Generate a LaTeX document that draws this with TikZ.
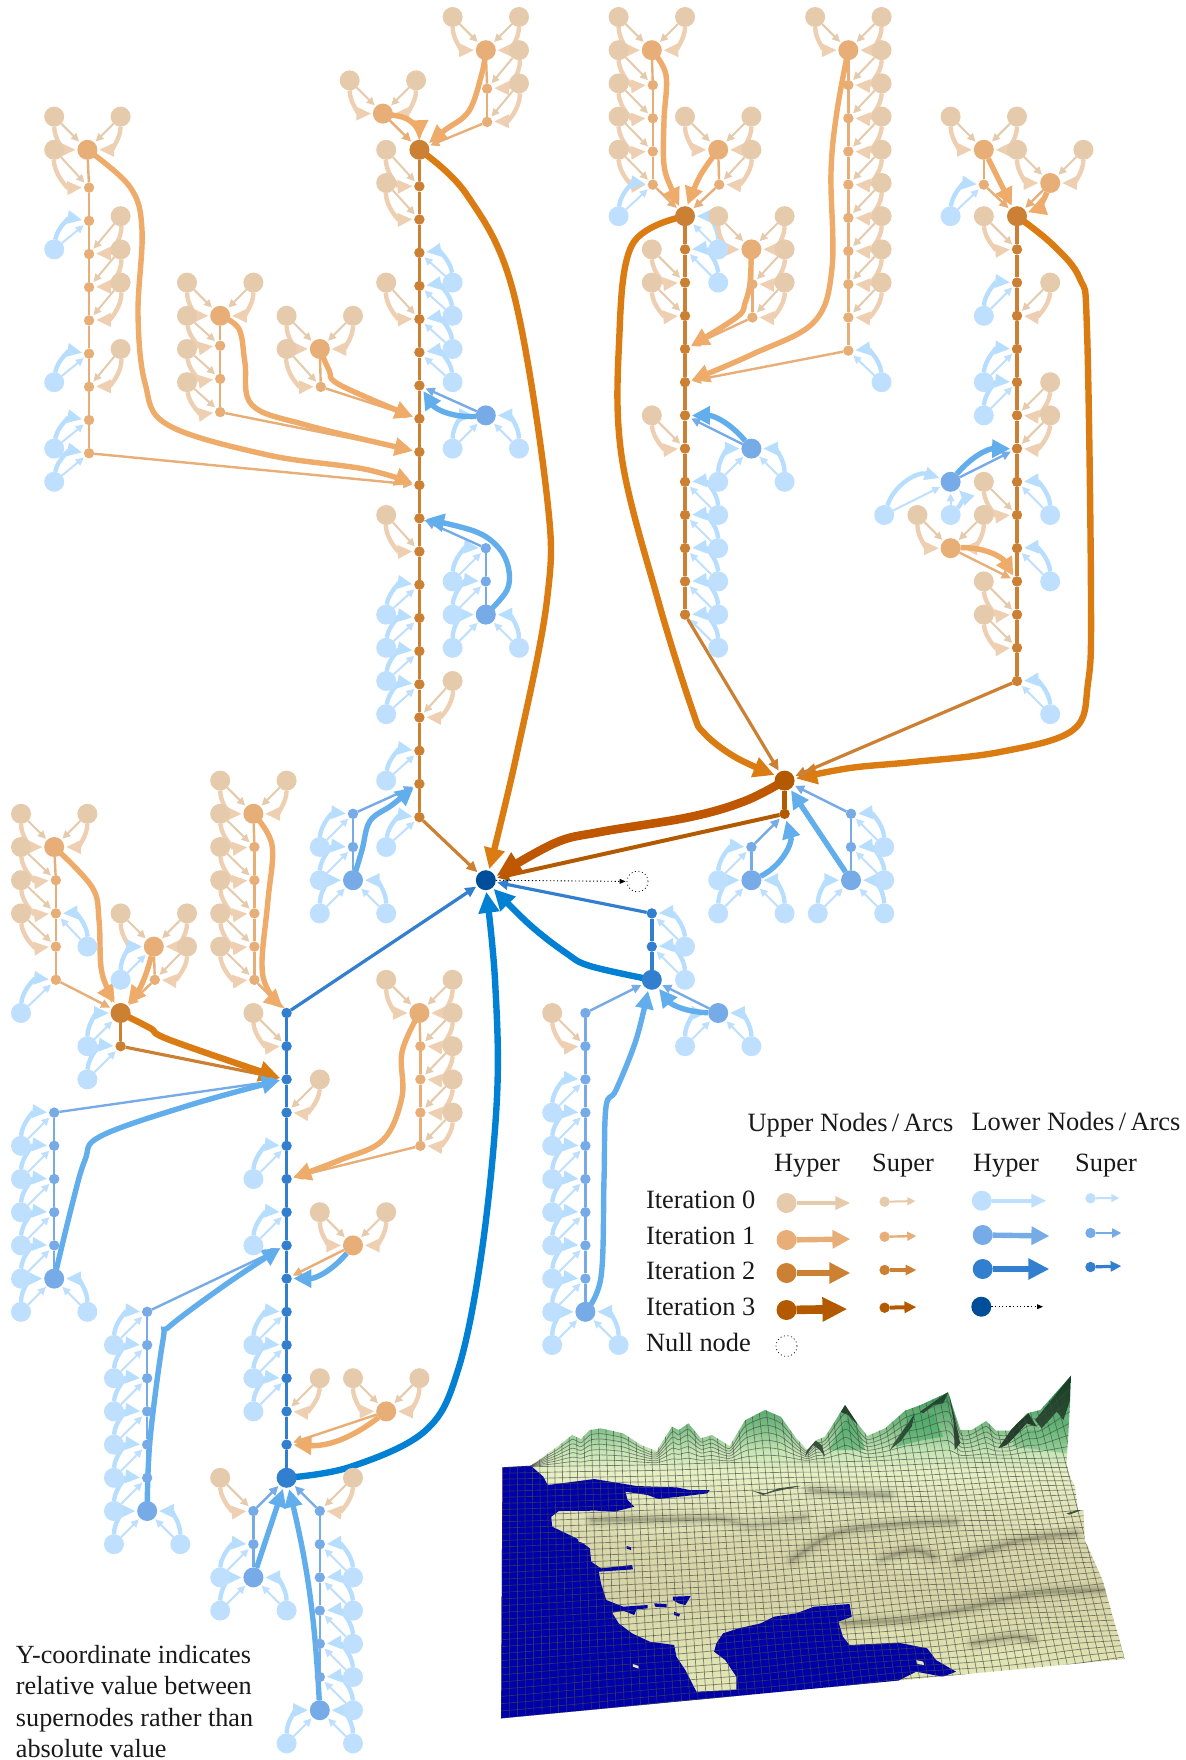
\documentclass[tikz,border=0pt]{standalone}
\usepackage{fontspec}
\setmainfont{Liberation Serif}
\usetikzlibrary{arrows.meta,calc}
\pgfdeclarelayer{arcs}
\pgfsetlayers{arcs,main}
\definecolor{cU0}{HTML}{E5CAAB}\definecolor{cU1}{HTML}{E8AE78}\definecolor{cU2}{HTML}{CC8033}\definecolor{cU3}{HTML}{B35A00}
\definecolor{cL0}{HTML}{BFDFFF}\definecolor{cL1}{HTML}{76ABE8}\definecolor{cL2}{HTML}{337FCF}\definecolor{cL3}{HTML}{004E9A}
\definecolor{hU0}{HTML}{EFCFB1}\definecolor{hU1}{HTML}{EEAB69}\definecolor{hU2}{HTML}{DB7C13}\definecolor{hU3}{HTML}{BF5700}
\definecolor{hL0}{HTML}{B8DEFF}\definecolor{hL1}{HTML}{62AEEC}\definecolor{hL2}{HTML}{0281D4}
\definecolor{landa}{HTML}{E7E9B8}\definecolor{landb}{HTML}{E0E3B2}\definecolor{landc}{HTML}{D6D4A6}\definecolor{landd}{HTML}{D9D8AA}\definecolor{lande}{HTML}{E3E8BC}\definecolor{landf}{HTML}{E7F0C4}\definecolor{landg}{HTML}{C5E6B5}\definecolor{landh}{HTML}{7CBF85}\definecolor{landi}{HTML}{4FA468}\definecolor{landj}{HTML}{1F7A3D}
\definecolor{facet}{HTML}{16301E}
\definecolor{litg}{HTML}{3BA55F}
\definecolor{palebnd}{HTML}{F0F5C8}
\pgfdeclareverticalshading{landshade}{100bp}{color(0bp)=(landa);color(25bp)=(landa);color(33.5bp)=(landb);color(43bp)=(landc);color(50.5bp)=(landd);color(57bp)=(lande);color(61bp)=(landf);color(64bp)=(landg);color(67.5bp)=(landh);color(71bp)=(landi);color(75bp)=(landj);color(100bp)=(landj)}
\tikzset{
 nbase/.style={circle,inner sep=0pt,outer sep=0pt,draw=none},
 hnU0/.style={nbase,minimum size=10pt,fill=cU0},hnU1/.style={nbase,minimum size=10pt,fill=cU1},
 hnU2/.style={nbase,minimum size=10pt,fill=cU2},hnU3/.style={nbase,minimum size=10pt,fill=cU3},
 hnL0/.style={nbase,minimum size=10pt,fill=cL0},hnL1/.style={nbase,minimum size=10pt,fill=cL1},
 hnL2/.style={nbase,minimum size=10pt,fill=cL2},hnL3/.style={nbase,minimum size=10pt,fill=cL3},
 snU0/.style={nbase,minimum size=5.2pt,fill=cU0},snU1/.style={nbase,minimum size=5.2pt,fill=cU1},
 snU2/.style={nbase,minimum size=5.2pt,fill=cU2},snU3/.style={nbase,minimum size=5.2pt,fill=cU3},
 snL0/.style={nbase,minimum size=5.2pt,fill=cL0},snL1/.style={nbase,minimum size=5.2pt,fill=cL1},
 snL2/.style={nbase,minimum size=5.2pt,fill=cL2},
 nullnode/.style={circle,inner sep=0pt,minimum size=10.5pt,draw=black,line width=.35pt,dash pattern=on .5pt off 1.3pt},
 lnU0/.style={line width=1pt,color=cU0},lnU1/.style={line width=1.2pt,color=cU1},lnU2/.style={line width=1.7pt,color=cU2},lnU3/.style={line width=2.2pt,color=cU3},
 lnL0/.style={line width=1pt,color=cL0},lnL1/.style={line width=1.2pt,color=cL1},lnL2/.style={line width=1.7pt,color=cL2},
 saU0/.style={line width=1pt,color=cU0,-{Triangle[length=4pt,width=3.8pt]},shorten >=.8pt},
 saU1/.style={line width=1.2pt,color=cU1,-{Triangle[length=4.6pt,width=4.4pt]},shorten >=.8pt},
 saU2/.style={line width=1.6pt,color=cU2,-{Triangle[length=5.4pt,width=5pt]},shorten >=.8pt},
 saU3/.style={line width=2pt,color=cU3,-{Triangle[length=6pt,width=5.6pt]},shorten >=.8pt},
 saL0/.style={line width=1pt,color=cL0,-{Triangle[length=4pt,width=3.8pt]},shorten >=.8pt},
 saL1/.style={line width=1.2pt,color=cL1,-{Triangle[length=4.6pt,width=4.4pt]},shorten >=.8pt},
 saL2/.style={line width=1.6pt,color=cL2,-{Triangle[length=5.4pt,width=5pt]},shorten >=.8pt},
 haU0/.style={line width=2.2pt,color=hU0,-{Triangle[length=7.5pt,width=6.4pt]},shorten >=.8pt},
 haU1/.style={line width=2.7pt,color=hU1,-{Triangle[length=9pt,width=8.8pt]},shorten >=.8pt},
 haU2/.style={line width=3.2pt,color=hU2,-{Triangle[length=10.5pt,width=10pt]},shorten >=.8pt},
 haU3/.style={line width=4.3pt,color=hU3,-{Triangle[length=12.5pt,width=11.5pt]},shorten >=.8pt},
 haL0/.style={line width=2.2pt,color=hL0,-{Triangle[length=7.5pt,width=6.4pt]},shorten >=.8pt},
 haL1/.style={line width=2.7pt,color=hL1,-{Triangle[length=9pt,width=8.8pt]},shorten >=.8pt},
 haL2/.style={line width=3.2pt,color=hL2,-{Triangle[length=10.5pt,width=10pt]},shorten >=.8pt},
 dotarc/.style={line width=.45pt,color=black,dash pattern=on .6pt off 1.2pt,-{Triangle[length=3pt,width=2.4pt]},shorten >=.5pt},
 lbl/.style={inner sep=0pt,outer sep=0pt,font=\fontsize{13.2}{15.8}\selectfont,color=black!90},
 gridline/.style={line width=.34pt,color=black!72,opacity=.65},
 smoothy/.style={smooth,tension=.6}
}
\newcounter{lfc}
\gdef\arcq{}
\newcommand\Nd[4]{\node[#1] (#2) at ({21+33.2*(#3)},{17+33.2*(#4)}) {};}
\newcommand\Lk[3]{\xdef\arcq{\unexpanded\expandafter{\arcq}\noexpand\draw[ln#1] (#2)--(#3);}}
\newcommand\Sa[3]{\xdef\arcq{\unexpanded\expandafter{\arcq}\noexpand\draw[sa#1] (#2)--(#3);}}
\newcommand\Ha[4]{\xdef\arcq{\unexpanded\expandafter{\arcq}\noexpand\draw[ha#1] (#2) to[bend left=#4] (#3);}}
\newcommand\Hp[2]{\xdef\arcq{\unexpanded\expandafter{\arcq}\noexpand\draw[ha#1] plot[smoothy] coordinates {#2};}}
\newcommand\Chain[6]{\foreach \rr in {#4,...,#5}{%
  \Nd{sn#1}{#2\rr}{#3}{\rr+(#6)}%
  \ifnum\rr>#4\relax\pgfmathtruncatemacro\qq{\rr-1}\Lk{#1}{#2\qq}{#2\rr}\fi}}
\newcommand\Lf[4]{\stepcounter{lfc}%
  \Nd{hn#10}{l\thelfc}{#3}{#4}%
  \pgfpointanchor{#2}{center}\pgfgetlastxy{\tgx}{\tgy}%
  \pgfpointanchor{l\thelfc}{center}\pgfgetlastxy{\lfx}{\lfy}%
  \ifdim\lfx<\tgx\relax\ifdim\lfy<\tgy\relax\def\bng{45}\else\def\bng{-45}\fi
  \else\ifdim\lfy<\tgy\relax\def\bng{-45}\else\def\bng{45}\fi\fi
  \Sa{#10}{l\thelfc}{#2}\Ha{#10}{l\thelfc}{#2}{\bng}}
\newcommand\Band[1]{\foreach \wd/\op in {8/.035,6/.04,4/.05,2.4/.07,1.2/.09}{\draw[line width=\wd pt,color=black,opacity=\op,line cap=round] plot[smooth] coordinates {#1};}}
\newcommand\Lite[1]{\foreach \wd/\op in {8/.07,5/.09,3/.12}{\draw[line width=\wd pt,color=palebnd,opacity=\op,line cap=round] plot[smooth] coordinates {#1};}}
\begin{document}
\begin{tikzpicture}[x=0.5pt,y=-0.5pt]
\useasboundingbox (0,0) rectangle (1186,1760);
% ---------- terrain
\begin{scope}[shift={(490,1360)},x=0.22193pt,y=-0.16667pt]
\def\outl{(28,322)--(92,317)--(110,300)--(125,285)--(150,262)--(185,225)--(205,237)--(225,210)--(250,205)--(300,220)--(340,255)--(375,273)--(410,200)--(425,210)--(447,190)--(475,235)--(500,225)--(540,258)--(575,180)--(620,150)--(655,170)--(690,235)--(715,270)--(735,240)--(755,230)--(800,135)--(825,185)--(850,228)--(890,205)--(935,152)--(970,135)--(1032,97)--(1060,210)--(1085,210)--(1118,183)--(1140,212)--(1172,212)--(1210,160)--(1240,150)--(1309,47)--(1307,120)--(1303,230)--(1299,310)--(1307,350)--(1318,380)--(1325,450)--(1337,450)--(1340,540)--(1380,660)--(1430,897)--(25,1075)--cycle}
\begin{scope}
\clip \outl;
\shade[shading=landshade] \outl;
% lit slopes
\fill[litg,opacity=.55] (946,160)--(999,160)--(1021,230)--(976,240)--(916,260)--cycle;
\fill[litg,opacity=.55] (807,170)--(834,220)--(845,270)--(804,270)--(762,270)--cycle;
\fill[litg,opacity=.35] (1179,210)--(1239,210)--(1277,160)--(1303,185)--(1299,280)--(1179,260)--cycle;
% dark facets
\fill[facet,opacity=.85] (801,133)--(815,145)--(828,195)--(807,165)--(788,155)--cycle;
\fill[facet,opacity=.8] (732,240)--(747,255)--(755,290)--(743,270)--(728,255)--(710,290)--(717,255)--cycle;
\fill[facet,opacity=.85] (1033,95)--(1055,220)--(1059,250)--(1047,270)--(1044,180)--cycle;
\fill[facet,opacity=.8] (969,155)--(1006,120)--(1033,95)--(1021,130)--(999,135)--(976,160)--cycle;
\fill[facet,opacity=.75] (912,245)--(942,190)--(957,160)--(950,200)--(924,245)--(901,270)--cycle;
\fill[facet,opacity=.9] (1145,265)--(1179,200)--(1213,160)--(1232,200)--(1209,190)--(1186,225)--(1164,255)--cycle;
\fill[facet,opacity=.8] (1309,47)--(1228,180)--(1243,205)--(1277,155)--(1292,180)--(1307,120)--cycle;
\fill[facet,opacity=.8] (1299,460)--(1329,448)--(1330,452)--(1305,464)--cycle;
\fill[facet,opacity=.8] (590,392)--(620,400)--(650,385)--(690,378)--(700,378)--(640,395)--(615,405)--cycle;
% terrain folds
\Band{(230,480)(400,478)(520,478)(590,497)(710,472)}
\Band{(680,600)(760,530)(830,505)(950,490)(1050,485)}
\Band{(1050,600)(1200,540)(1320,520)}
\Band{(796,790)(931,780)(1058,750)(1224,700)(1390,690)}
\Band{(1088,850)(1179,830)(1224,840)}
\Band{(880,600)(950,570)(1000,590)}
\Band{(720,390)(800,400)(900,405)}
\Lite{(811,820)(923,815)}\Lite{(1111,900)(1224,870)}\Lite{(1050,560)(1180,500)(1300,490)}\Lite{(700,640)(850,600)(1000,640)}\Lite{(300,510)(520,500)(700,490)}
% water
\fill[blue!67!black] (28,322)--(92,317)--(120,350)--(130,375)--(160,370)--(235,357)--(285,368)--(330,378)--(420,382)--(450,390)--(495,390)--(490,400)--(440,408)--(380,417)--(355,405)--(305,395)--(310,420)--(325,440)--(280,455)--(240,452)--(155,453)--(138,470)--(140,500)--(195,535)--(225,565)--(228,605)--(250,625)--(320,615)--(322,628)--(245,635)--(250,670)--(262,720)--(300,740)--(355,735)--(355,745)--(330,748)--(325,765)--(300,752)--(275,758)--(290,790)--(320,820)--(360,845)--(415,855)--(420,890)--(440,930)--(465,995)--(555,990)--(555,950)--(530,900)--(505,875)--(510,850)--(525,820)--(560,805)--(610,790)--(640,770)--(690,760)--(730,740)--(810,732)--(815,770)--(785,785)--(795,830)--(810,855)--(920,848)--(985,865)--(1005,900)--(1050,935)--(1020,950)--(960,935)--(915,965)--(25,1075)--cycle;
\fill[blue!67!black] (308,558)--(318,562)--(318,570)--(308,566)--cycle;
\fill[blue!67!black] (370,730)--(398,732)--(398,742)--(372,740)--cycle;
\fill[blue!67!black] (412,710)--(452,708)--(446,722)--(440,735)--(425,730)--(412,720)--cycle;
\fill[blue!67!black] (415,755)--(428,762)--(426,770)--(415,765)--cycle;
\fill[lande] (322,912)--(335,918)--(335,926)--(322,920)--cycle;
\fill[lande] (960,900)--(976,905)--(978,915)--(962,912)--cycle;
\fill[lande] (198,538)--(218,545)--(220,552)--(200,545)--cycle;
% grid
\foreach \i in {0,...,76}{
 \pgfmathsetmacro\xb{25+18.487*\i}\pgfmathsetmacro\yb{1075-2.342*\i}
 \pgfmathsetmacro\xt{28+16.868*\i}\pgfmathsetmacro\yt{322-.421*\i}
 \draw[gridline] (\xb,\yb)--({\xb+1.4*(\xt-\xb)},{\yb+1.4*(\yt-\yb)});}
\foreach \j in {0,...,38}{
 \pgfmathsetmacro\sss{(\j/38)*1.12/(1+.12*\j/38)}
 \pgfmathsetmacro\xa{25+3*\sss}\pgfmathsetmacro\ya{1075-753*\sss}
 \pgfmathsetmacro\xc{1430-120*\sss}\pgfmathsetmacro\yc{897-607*\sss}
 \gdef\pth{}
 \foreach \n in {0,...,14}{
  \pgfmathsetmacro\ux{\xa+(\xc-\xa)/14*\n}
  \pgfmathsetmacro\uy{\ya+(\yc-\ya)/14*\n+.45*\n*sin(\n*70+\j*25)*(1-.4*\sss)}
  \xdef\pth{\pth(\ux,\uy)}}
 \edef\tmpd{\noexpand\draw[gridline] plot[smooth] coordinates {\pth};}\tmpd}
\foreach \k in {1,...,6}{
 \gdef\pth{}
 \foreach \px/\py in {92/317,110/300,125/285,150/262,185/225,205/237,225/210,250/205,300/220,340/255,375/273,410/200,425/210,447/190,475/235,500/225,540/258,575/180,620/150,655/170,690/235,715/270,735/240,755/230,800/135,825/185,850/228,890/205,935/152,970/135,1032/97,1060/210,1085/210,1118/183,1140/212,1172/212,1210/160,1240/150,1309/47}{
  \pgfmathsetmacro\yy{\py+(322-0.022*\px-\py)*\k/7}
  \xdef\pth{\pth(\px,\yy)}}
 \edef\tmpd{\noexpand\draw[gridline] plot[smooth,tension=.4] coordinates {\pth};}\tmpd}
\end{scope}
\end{scope}
% ---------- root and null
\Nd{hnL3}{Root}{14}{26}
\node[nullnode] (Null) at (637.5,881.5) {};
% ---------- tree A
\Nd{hnU2}{A}{12}{4}\Chain{U2}{a}{12}{5}{24}{.1}\Lk{U2}{A}{a5}
\Lf{U}{a5}{11}{4}\Lf{U}{a6}{11}{5}\Lf{L}{a7}{13}{8}\Lf{L}{a8}{13}{9}\Lf{L}{a9}{13}{10}\Lf{L}{a10}{13}{11}\Lf{U}{a9}{11}{8}
\Lf{U}{a16}{11}{15}\Lf{L}{a17}{11}{18}\Lf{L}{a18}{11}{19}\Lf{L}{a19}{11}{20}\Lf{L}{a20}{11}{21}\Lf{L}{a22}{11}{23}\Lf{L}{a24}{11}{25}\Lf{U}{a21}{13}{20}
% Ta
\Nd{hnU1}{Ta}{14}{1}\Chain{U1}{ta}{14.04}{2}{3}{.16}\Lk{U1}{Ta}{ta2}
\Lf{U}{Ta}{13}{0}\Lf{U}{Ta}{15}{0}\Lf{U}{ta2}{15}{1}\Lf{U}{ta3}{15}{2}
\Sa{U1}{ta3}{A}\Hp{U1}{(Ta)(482,73)(469,111)(445,130)(A.35)}
% Tb
\Nd{hnU1}{Tb}{10.9}{2.91}\Lf{U}{Tb}{9.9}{1.91}\Lf{U}{Tb}{11.9}{1.91}
\Sa{U1}{Tb}{A}\Hp{U1}{(Tb)(405,118)(417,128)(A.88)}
% Tc
\Nd{hnU1}{Tc}{2}{4}\Chain{U1}{tc}{2.05}{5}{13}{.14}\Lk{U1}{Tc}{tc5}
\Lf{U}{Tc}{1}{3}\Lf{U}{Tc}{3}{3}\Lf{U}{tc5}{1}{4}\Lf{U}{tc7}{3}{6}\Lf{U}{tc8}{3}{7}\Lf{U}{tc9}{3}{8}\Lf{L}{tc6}{1}{7}\Lf{U}{tc11}{3}{10}\Lf{L}{tc10}{1}{11}\Lf{L}{tc12}{1}{13}\Lf{L}{tc13}{1}{14}
\Sa{U1}{tc13}{a14}\Hp{U1}{(Tc)(130,187)(142,230)(138,314)(145,383)(168,425)(268,455)(364,469)(a14.168)}
% Td
\Nd{hnU1}{Td}{6}{9}\Chain{U1}{td}{6}{10}{12}{-.1}\Lk{U1}{Td}{td10}
\Lf{U}{Td}{5}{8}\Lf{U}{Td}{7}{8}\Lf{U}{td10}{5}{9}\Lf{U}{td11}{5}{10}\Lf{U}{td12}{5}{11}
\Sa{U1}{td12}{a13}\Hp{U1}{(Td)(239,329)(245,363)(252,405)(306,425)(a13.170)}
% Te
\Nd{hnU1}{Te}{9}{10}\Chain{U1}{te}{9.03}{11}{11}{.14}\Lk{U1}{Te}{te11}
\Lf{U}{Te}{8}{9}\Lf{U}{Te}{10}{9}\Lf{U}{te11}{8}{10}
\Sa{U1}{te11}{a12}\Hp{U1}{(Te)(329,370)(340,385)(a12.165)}
% Ba
\Nd{hnL1}{Ba}{14}{12}\Lf{L}{Ba}{13}{13}\Lf{L}{Ba}{15}{13}
\Sa{L1}{Ba}{a11}\Ha{L1}{Ba}{a11}{30}
% Bb
\Nd{hnL1}{Bb}{14}{18}\Chain{L1}{bb}{14}{16}{17}{0}\Lk{L1}{bb17}{Bb}
\Lf{L}{bb16}{13}{17}\Lf{L}{bb17}{13}{18}\Lf{L}{Bb}{13}{19}\Lf{L}{Bb}{15}{19}
\Sa{L1}{bb16}{a15}\Hp{L1}{(Bb)(507,590)(508,566)(497,546)(474,531)(a15.-5)}
% Bc
\Nd{hnL1}{Bc}{10}{26}\Chain{L1}{bc}{10}{24}{25}{0}\Lk{L1}{bc25}{Bc}
\Lf{L}{bc24}{9}{25}\Lf{L}{bc25}{9}{26}\Lf{L}{Bc}{9}{27}\Lf{L}{Bc}{11}{27}
\Sa{L1}{bc24}{a23}\Hp{L1}{(Bc)(362,850)(370,821)(392,805)(a23.210)}
\Hp{U2}{(A)(467,195)(513,291)(547,497)(547,600)(517,753)(Root.72)}
\Sa{U2}{a24}{Root}
% ---------- tree C
\Nd{hnU2}{C}{20}{6}\Chain{U2}{cc}{20}{7}{18}{0}\Lk{U2}{C}{cc7}
\Lf{U}{cc8}{19}{7}\Lf{U}{cc9}{19}{8}\Lf{U}{cc13}{19}{12}\Lf{L}{C}{21}{7}\Lf{L}{cc7}{21}{8}\Lf{L}{cc14}{21}{15}\Lf{L}{cc15}{21}{16}\Lf{L}{cc16}{21}{17}\Lf{L}{cc17}{21}{18}\Lf{L}{cc18}{21}{19}
\Nd{hnL1}{Bd}{22}{13}\Lf{L}{Bd}{21}{14}\Lf{L}{Bd}{23}{14}\Sa{L1}{Bd}{cc12}\Ha{L1}{Bd}{cc12}{-25}
\Nd{hnU1}{Tf}{19}{1}\Chain{U1}{tf}{19.03}{2}{5}{.05}\Lk{U1}{Tf}{tf2}
\Lf{U}{Tf}{18}{0}\Lf{U}{Tf}{20}{0}\Lf{U}{tf2}{18}{1}\Lf{U}{tf3}{18}{2}\Lf{U}{tf4}{18}{3}\Lf{U}{tf5}{18}{4}\Lf{L}{tf5}{18}{6}
\Sa{U1}{tf5}{C}\Hp{U1}{(Tf)(666,75)(664,120)(664,165)(672,190)(C.120)}
\Nd{hnU1}{Tg}{21}{4}\Chain{U1}{tg}{21.03}{5}{5}{.05}\Lk{U1}{Tg}{tg5}
\Lf{U}{Tg}{20}{3}\Lf{U}{Tg}{22}{3}\Lf{U}{tg5}{22}{4}
\Sa{U1}{tg5}{C}\Hp{U1}{(Tg)(700,176)(C.78)}
\Nd{hnU1}{Th}{22}{7}\Chain{U1}{th}{22.03}{8}{9}{.05}\Lk{U1}{Th}{th8}
\Lf{U}{Th}{21}{6}\Lf{U}{Th}{23}{6}\Lf{U}{th8}{23}{7}\Lf{U}{th9}{23}{8}
\Sa{U1}{th9}{cc10}\Hp{U1}{(Th)(750,283)(745,303)(737,317)(cc10.28)}
\Nd{hnU1}{Ti}{24.92}{1}\Chain{U1}{ti}{24.92}{2}{10}{.05}\Lk{U1}{Ti}{ti2}
\Lf{U}{Ti}{23.92}{0}\Lf{U}{Ti}{25.92}{0}\Lf{U}{ti2}{25.92}{1}\Lf{U}{ti3}{25.92}{2}\Lf{U}{ti4}{25.92}{3}\Lf{U}{ti5}{25.92}{4}\Lf{U}{ti6}{25.92}{5}\Lf{U}{ti7}{25.92}{6}\Lf{U}{ti8}{25.92}{7}\Lf{U}{ti9}{25.92}{8}\Lf{L}{ti10}{25.92}{11}
\Sa{U1}{ti10}{cc11}\Hp{U1}{(Ti)(837,111)(831,172)(832,268)(814,322)(753,354)(cc11.15)}
% ---------- tree E
\Nd{hnU2}{E}{30}{6}\Chain{U2}{ee}{30}{7}{20}{0}\Lk{U2}{E}{ee7}
\Lf{U}{ee7}{29}{6}\Lf{L}{ee8}{29}{9}\Lf{U}{ee9}{31}{8}\Lf{L}{ee10}{29}{11}\Lf{L}{ee11}{29}{12}\Lf{U}{ee12}{31}{11}\Lf{U}{ee13}{31}{12}\Lf{L}{ee14}{31}{15}\Lf{U}{ee15}{29}{14}\Lf{L}{ee16}{31}{17}\Lf{U}{ee18}{29}{17}\Lf{U}{ee19}{29}{18}\Lf{L}{ee20}{31}{21}
\Nd{hnU1}{Tj}{28}{16}\Lf{U}{Tj}{27}{15}\Lf{U}{Tj}{29}{15}\Sa{U1}{Tj}{ee17}\Ha{U1}{Tj}{ee17}{30}
\Nd{hnU1}{Tk}{29}{4}\Chain{U1}{tk}{29}{5}{5}{.05}\Lk{U1}{Tk}{tk5}
\Lf{U}{Tk}{28}{3}\Lf{U}{Tk}{30}{3}\Lf{L}{tk5}{28}{6}\Sa{U1}{tk5}{E}\Ha{U1}{Tk}{E}{0}
\Nd{hnU1}{Tl}{31}{5}\Lf{U}{Tl}{30}{4}\Lf{U}{Tl}{32}{4}\Sa{U1}{Tl}{E}\Ha{U1}{Tl}{E}{25}
\Nd{hnL1}{Be}{28}{14}\Lf{L}{Be}{26}{15}\Lf{L}{Be}{28}{15}\Sa{L1}{Be}{ee13}\Ha{L1}{Be}{ee13}{25}
% ---------- D
\Nd{hnU3}{D}{23}{23}\Chain{U3}{dd}{23}{24}{24}{0}\Lk{U3}{D}{dd24}
\Hp{U2}{(C)(632,245)(619,344)(622,459)(658,600)(692,709)(704,733)(735,757)(D.150)}
\Sa{U2}{cc18}{D}
\Hp{U2}{(E)(1053,245)(1080,279)(1087,330)(1091,600)(1088,683)(1073,730)(1000,752)(913,762)(850,768)(D.10)}
\Sa{U2}{ee20}{D}
\Sa{U3}{dd24}{Root}\Hp{U3}{(D)(745,801)(690,817)(600,832)(555,843)(Root.20)}
\Nd{hnL1}{Bf}{22}{26}\Chain{L1}{bf}{22}{25}{25}{0}\Lk{L1}{bf25}{Bf}
\Lf{L}{bf25}{21}{26}\Lf{L}{Bf}{21}{27}\Lf{L}{Bf}{23}{27}\Sa{L1}{bf25}{dd24}\Ha{L1}{Bf}{dd24}{-40}
\Nd{hnL1}{Bg}{25}{26}\Chain{L1}{bg}{25}{24}{25}{0}\Lk{L1}{bg25}{Bg}
\Lf{L}{bg24}{26}{25}\Lf{L}{bg25}{26}{26}\Lf{L}{Bg}{24}{27}\Lf{L}{Bg}{26}{27}\Sa{L1}{bg24}{D}\Ha{L1}{Bg}{D}{0}
% ---------- tree F
\Nd{hnL2}{Fz}{8}{44}\Chain{L2}{ff}{8}{30}{43}{0}\Lk{L2}{ff43}{Fz}
\Sa{L2}{ff30}{Root}\Hp{L2}{(Fz)(350,1467)(425,1431)(458,1370)(482,1250)(497,1097)(495,980)(Root.-88)}
\Lf{U}{ff31}{7}{30}\Lf{U}{ff33}{9}{32}\Lf{L}{ff34}{7}{35}\Lf{L}{ff36}{7}{37}\Lf{L}{ff39}{7}{40}\Lf{L}{ff40}{7}{41}\Lf{L}{ff41}{7}{42}\Lf{U}{ff42}{9}{41}
\Nd{hnU1}{Tm}{12}{30}\Chain{U1}{tm}{12.03}{31}{34}{0}\Lk{U1}{Tm}{tm31}
\Lf{U}{Tm}{11}{29}\Lf{U}{Tm}{13}{29}\Lf{U}{tm31}{13}{30}\Lf{U}{tm32}{13}{31}\Lf{U}{tm33}{13}{32}\Lf{U}{tm34}{13}{33}
\Sa{U1}{tm34}{ff35}\Hp{U1}{(Tm)(402,1052)(402,1097)(383,1140)(340,1160)(ff35.10)}
\Nd{hnU1}{Tn}{10}{37}\Lf{U}{Tn}{9}{36}\Lf{U}{Tn}{11}{36}\Sa{U1}{Tn}{ff38}\Ha{L1}{Tn}{ff38}{25}
\Nd{hnU1}{To}{11}{42}\Lf{U}{To}{10}{41}\Lf{U}{To}{12}{41}\Sa{U1}{To}{ff43}\Ha{U1}{To}{ff43}{20}
\Nd{hnU2}{Gg}{3}{30}\Chain{U2}{gg}{3}{31}{31}{0}\Lk{U2}{Gg}{gg31}
\Lf{L}{Gg}{2}{31}\Lf{L}{gg31}{2}{32}\Sa{U2}{gg31}{ff32}\Hp{U2}{(Gg)(150,1028)(170,1040)(ff32.170)}
\Nd{hnU1}{Tp}{1}{25}\Chain{U1}{tp}{1.05}{26}{29}{0}\Lk{U1}{Tp}{tp26}
\Lf{U}{Tp}{0}{24}\Lf{U}{Tp}{2}{24}\Lf{U}{tp26}{0}{25}\Lf{U}{tp27}{0}{26}\Lf{U}{tp28}{0}{27}\Lf{L}{tp27}{2}{28}\Lf{L}{tp29}{0}{30}
\Sa{U1}{tp29}{Gg}\Hp{U1}{(Tp)(92,887)(99,920)(101,967)(108,990)(Gg.120)}
\Nd{hnU1}{Tq}{4}{28}\Chain{U1}{tq}{4.03}{29}{29}{0}\Lk{U1}{Tq}{tq29}
\Lf{U}{Tq}{3}{27}\Lf{U}{Tq}{5}{27}\Lf{U}{tq29}{5}{28}\Lf{L}{Tq}{3}{29}\Sa{U1}{tq29}{Gg}\Ha{U1}{Tq}{Gg}{12}
\Nd{hnU1}{Tr}{7}{24}\Chain{U1}{tr}{7.03}{25}{29}{0}\Lk{U1}{Tr}{tr25}
\Lf{U}{Tr}{6}{23}\Lf{U}{Tr}{8}{23}\Lf{U}{tr25}{6}{24}\Lf{U}{tr26}{6}{25}\Lf{U}{tr27}{6}{26}\Lf{U}{tr28}{6}{27}\Lf{U}{tr29}{6}{28}
\Sa{U1}{tr29}{ff30}\Hp{U1}{(Tr)(272,845)(268,900)(262,963)(268,990)(ff30.125)}
\Nd{hnL1}{Hh}{1}{38}\Chain{L1}{hh}{1}{33}{37}{0}\Lk{L1}{hh37}{Hh}
\Lf{L}{hh33}{0}{34}\Lf{L}{hh34}{0}{35}\Lf{L}{hh35}{0}{36}\Lf{L}{hh36}{0}{37}\Lf{L}{hh37}{0}{38}\Lf{L}{Hh}{0}{39}\Lf{L}{Hh}{2}{39}
\Sa{L1}{hh33}{ff32}\Hp{L1}{(Hh)(72,1205)(85,1160)(101,1136)(190,1105)(ff32.185)}
\Nd{hnL1}{Ii}{3.8}{45}\Chain{L1}{ii}{3.8}{39}{44}{0}\Lk{L1}{ii44}{Ii}
\Lf{L}{ii39}{2.8}{40}\Lf{L}{ii40}{2.8}{41}\Lf{L}{ii41}{2.8}{42}\Lf{L}{ii42}{2.8}{43}\Lf{L}{ii43}{2.8}{44}\Lf{L}{ii44}{2.8}{45}\Lf{L}{Ii}{2.8}{46}\Lf{L}{Ii}{4.8}{46}
\Sa{L1}{ii39}{ff37}\Hp{L1}{(Ii)(150,1440)(163,1340)(170,1326)(225,1285)(ff37.200)}
\Nd{hnL1}{Jj}{7}{47}\Chain{L1}{jj}{7}{45}{46}{0}\Lk{L1}{jj46}{Jj}
\Lf{U}{jj45}{6}{44}\Lf{L}{jj46}{6}{47}\Lf{L}{Jj}{6}{48}\Lf{L}{Jj}{8}{48}\Sa{L1}{jj45}{Fz}\Ha{L1}{Jj}{Fz}{0}
\Nd{hnL1}{Kk}{9}{51}\Chain{L1}{kk}{9}{45}{50}{0}\Lk{L1}{kk50}{Kk}
\Lf{U}{kk45}{10}{44}\Lf{L}{kk46}{10}{47}\Lf{L}{kk47}{10}{48}\Lf{L}{kk48}{10}{49}\Lf{L}{kk49}{10}{50}\Lf{L}{kk50}{10}{51}\Lf{L}{Kk}{10}{52}\Lf{L}{Kk}{8}{52}
\Sa{L1}{kk45}{Fz}\Ha{L1}{Kk}{Fz}{-5}
% ---------- tree L
\Nd{hnL2}{Ll}{19}{29}\Chain{L2}{ll}{19}{27}{28}{0}\Lk{L2}{ll28}{Ll}
\Sa{L2}{ll27}{Root}\Lf{L}{ll27}{20}{28}\Lf{L}{ll28}{20}{29}
\Hp{L2}{(Ll)(590,966)(566,953)(530,925)(Root.-48)}
\Nd{hnL1}{Mm}{17}{39}\Chain{L1}{mm}{17}{30}{38}{0}\Lk{L1}{mm38}{Mm}
\Lf{U}{mm31}{16}{30}\Lf{L}{mm32}{16}{33}\Lf{L}{mm33}{16}{34}\Lf{L}{mm34}{16}{35}\Lf{L}{mm35}{16}{36}\Lf{L}{mm36}{16}{37}\Lf{L}{mm37}{16}{38}\Lf{L}{mm38}{16}{39}\Lf{L}{Mm}{16}{40}\Lf{L}{Mm}{18}{40}
\Sa{L1}{mm30}{Ll}\Hp{L1}{(Mm)(601,1277)(604,1180)(606,1107)(616,1090)(636,1040)(Ll.-110)}
\Nd{hnL1}{Nn}{21}{30}\Lf{L}{Nn}{20}{31}\Lf{L}{Nn}{22}{31}\Sa{L1}{Nn}{Ll}\Ha{L1}{Nn}{Ll}{25}
% ---------- legend
\node[lbl,anchor=base] (h1) at (850.5,1131) {Upper Nodes\,/\,Arcs};
\node[lbl,anchor=base] (h2) at (1076,1130.5) {Lower Nodes\,/\,Arcs};
\node[lbl,anchor=base] (h3) at (807,1171) {Hyper};
\node[lbl,anchor=base] (h4) at (903,1171) {Super};
\node[lbl,anchor=base] (h5) at (1006,1171) {Hyper};
\node[lbl,anchor=base] (h6) at (1106,1171) {Super};
\node[lbl,anchor=base west] (i0) at (646,1208.5) {Iteration 0};
\node[lbl,anchor=base west] (i1) at (646,1244) {Iteration 1};
\node[lbl,anchor=base west] (i2) at (646,1279.5) {Iteration 2};
\node[lbl,anchor=base west] (i3) at (646,1315) {Iteration 3};
\node[lbl,anchor=base west] (i4) at (646,1351) {Null node};
\node[hnU0] (g1) at (786.5,1203) {};\node[hnU1] (g2) at (786.5,1240) {};\node[hnU2] (g3) at (786.5,1273) {};\node[hnU3] (g4) at (786.5,1310) {};
\node[nullnode] (g5) at (786.5,1346) {};
\coordinate (g1e) at (852,1203);\coordinate (g2e) at (852,1239);\coordinate (g3e) at (852,1273);\coordinate (g4e) at (849,1309);
\node[snU0] (s1) at (884.6,1201.7) {};\node[snU1] (s2) at (884.6,1236.7) {};\node[snU2] (s3) at (884.6,1270) {};\node[snU3] (s4) at (884.6,1307.7) {};
\coordinate (s1e) at (917,1201);\coordinate (s2e) at (918,1236);\coordinate (s3e) at (918,1270);\coordinate (s4e) at (918,1307);
\node[hnL0] (p1) at (981.8,1200.7) {};\node[hnL1] (p2) at (982.7,1235) {};\node[hnL2] (p3) at (982.7,1269) {};\node[hnL3] (p4) at (981.3,1306.7) {};
\coordinate (p1e) at (1048,1200.7);\coordinate (p2e) at (1051,1236);\coordinate (p3e) at (1051,1269);\coordinate (p4e) at (1044,1306.7);
\node[snL0] (q1) at (1090.5,1198.3) {};\node[snL1] (q2) at (1090.5,1233) {};\node[snL2] (q3) at (1090.5,1267) {};
\coordinate (q1e) at (1121,1198);\coordinate (q2e) at (1123,1233);\coordinate (q3e) at (1123,1266);
\node[lbl,font=\fontsize{13.1}{15.8}\selectfont,anchor=west,align=left] (note) at (16,1701.5) {Y-coordinate indicates\\relative value between\\supernodes rather than\\absolute value};
\begin{pgfonlayer}{arcs}
\arcq
\draw[dotarc] (Root)--(Null);
\draw[haU0,color=cU0] (g1)--(g1e);\draw[haU1,color=cU1] (g2)--(g2e);\draw[haU2,color=cU2] (g3)--(g3e);\draw[haU3,color=cU3] (g4)--(g4e);
\draw[saU0] (s1)--(s1e);\draw[saU1] (s2)--(s2e);\draw[saU2] (s3)--(s3e);\draw[saU3] (s4)--(s4e);
\draw[haL0,color=cL0] (p1)--(p1e);\draw[haL1,color=cL1] (p2)--(p2e);\draw[haL2,color=cL2] (p3)--(p3e);\draw[dotarc] (p4)--(p4e);
\draw[saL0] (q1)--(q1e);\draw[saL1] (q2)--(q2e);\draw[saL2] (q3)--(q3e);
\end{pgfonlayer}
\end{tikzpicture}
\end{document}
